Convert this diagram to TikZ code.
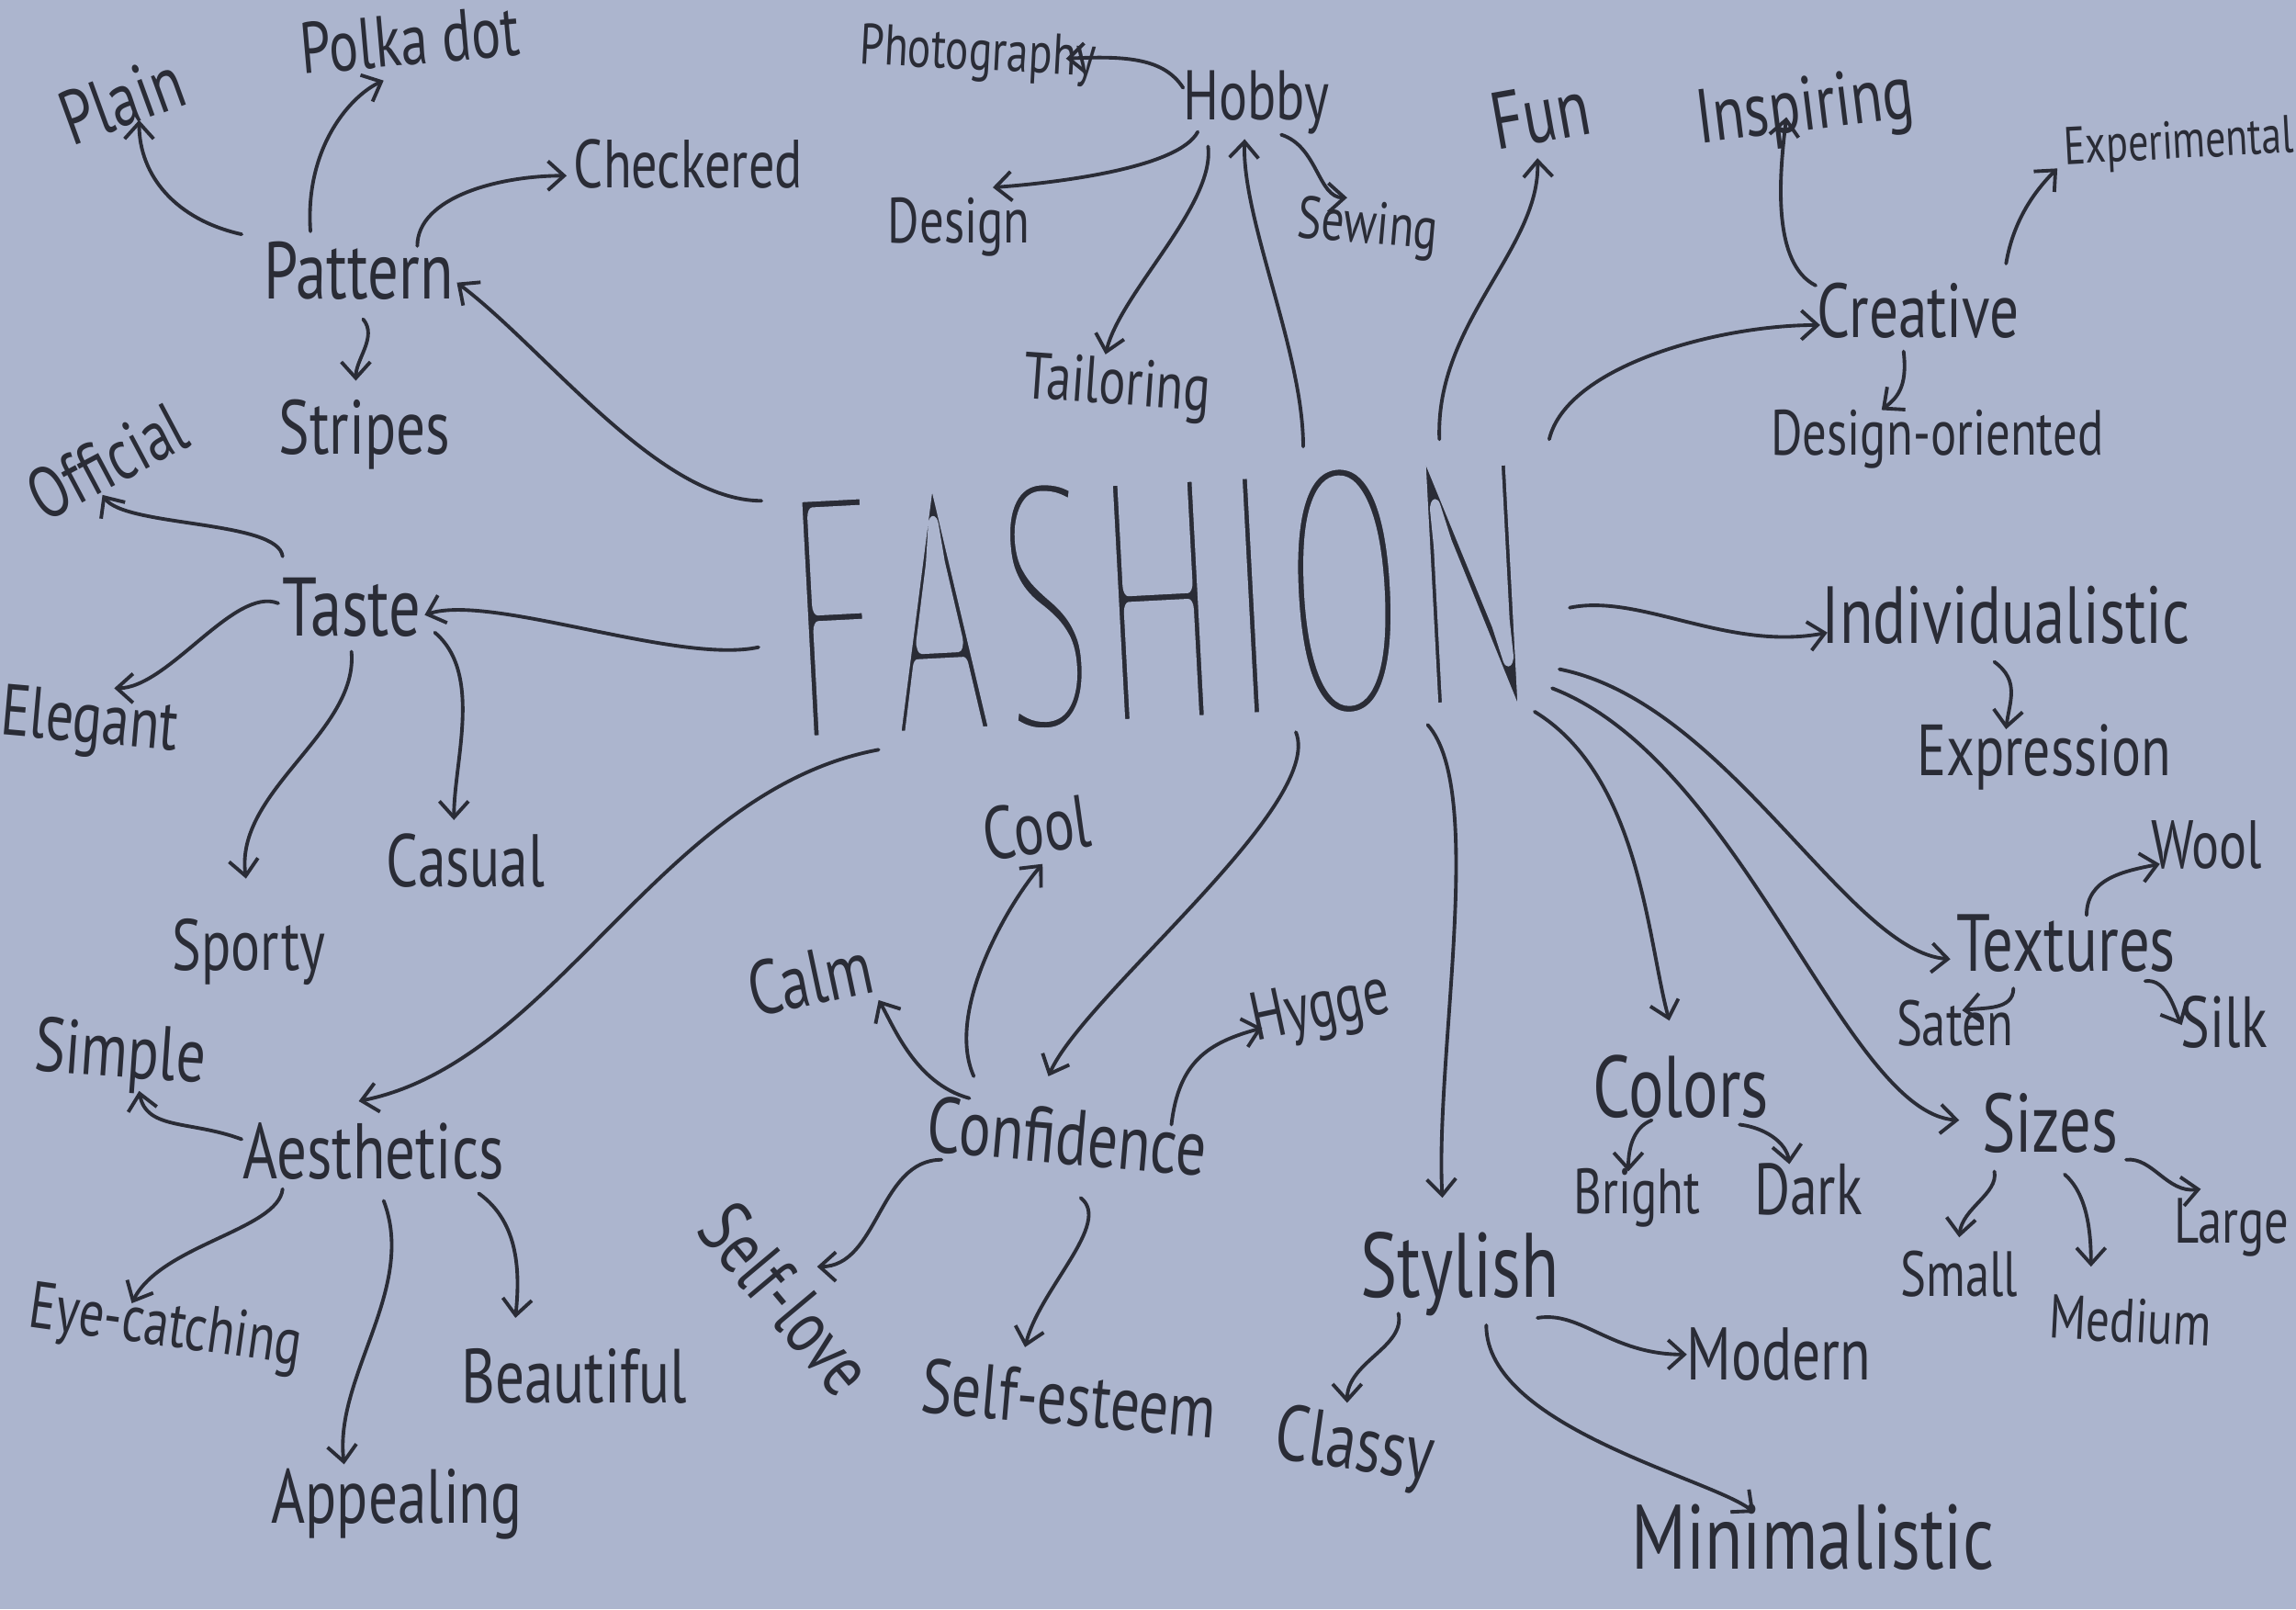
\documentclass[tikz,border=0pt]{standalone}
\usepackage{fontspec}
\setmainfont{PT Sans}
\newfontfamily\bigfont{PT Sans}[LetterSpace=4]
\usetikzlibrary{arrows.meta}
\definecolor{paper}{RGB}{172,181,206}
\definecolor{ink}{RGB}{42,44,54}
\newcommand{\hw}[1]{\scalebox{1}[1.32]{#1}}
\newcommand{\thinfashion}[1]{\special{pdf:literal direct 3.2 w 1 j 0.675 0.710 0.808 RG 2 Tr}#1\special{pdf:literal direct 0 Tr 0.165 0.173 0.212 RG}}
\tikzset{
  lbl/.style={font=\fontsize{#1}{#1}\selectfont, text=ink, inner sep=1pt},
  con/.style={draw=ink, line width=1.1pt, line cap=round, -{Straight Barb[length=5pt,width=9pt]}}
}
\begin{document}
\begin{tikzpicture}[x=0.01594cm,y=-0.01594cm]
\path[fill=paper] (0,0) rectangle (1568,1099);
\useasboundingbox (0,0) rectangle (1568,1099);

% centre
\node[lbl=55, rotate=3] (fa) at (792,410) {\bigfont\scalebox{1}[2.05]{\thinfashion{FASHION}}};

% pattern group
\node[lbl=19] (pat) at (245,185) {\hw{Pattern}};
\node[lbl=18, rotate=20] (plain) at (83,68) {\hw{Plain}};
\node[lbl=17, rotate=5] (polka) at (280,27) {\hw{Polka dot}};
\node[lbl=16] (chk) at (470,112) {\hw{Checkered}};
\node[lbl=18] (str) at (249,297) {\hw{Stripes}};
% taste group
\node[lbl=19.5] (taste) at (240,415) {\hw{Taste}};
\node[lbl=17, rotate=28] (off) at (73,315) {\hw{Official}};
\node[lbl=17, rotate=-5] (eleg) at (61,495) {\hw{Elegant}};
\node[lbl=17.5] (cas) at (318,588) {\hw{Casual}};
\node[lbl=17] (spo) at (170,650) {\hw{Sporty}};
% aesthetics group
\node[lbl=18.5] (aes) at (255,786) {\hw{Aesthetics}};
\node[lbl=18, rotate=-4] (simp) at (82,722) {\hw{Simple}};
\node[lbl=15.5, rotate=-8] (eye) at (113,908) {\hw{Eye-catching}};
\node[lbl=18] (beau) at (392,940) {\hw{Beautiful}};
\node[lbl=18] (app) at (271,1027) {\hw{Appealing}};
% hobby group
\node[lbl=16.5] (hob) at (858,70) {\hw{Hobby}};
\node[lbl=13.5, rotate=-3] (pho) at (668,38) {\hw{Photography}};
\node[lbl=15] (des) at (655,155) {\hw{Design}};
\node[lbl=14, rotate=-5] (sew) at (934,156) {\hw{Sewing}};
\node[lbl=15.5, rotate=-4] (tai) at (763,265) {\hw{Tailoring}};
\node[lbl=19, rotate=10] (fun) at (1052,78) {\hw{Fun}};
% creative group
\node[lbl=18] (cre) at (1310,212) {\hw{Creative}};
\node[lbl=18, rotate=7] (insp) at (1233,76) {\hw{Inspiring}};
\node[lbl=12.5, rotate=3] (expe) at (1488,99) {\hw{Experimental}};
\node[lbl=15] (dor) at (1323,300) {\hw{Design-oriented}};
\node[lbl=19] (ind) at (1370,420) {\hw{Individualistic}};
\node[lbl=17] (expr) at (1396,517) {\hw{Expression}};
% textures / sizes / colors
\node[lbl=19] (tex) at (1411,644) {\hw{Textures}};
\node[lbl=16] (wool) at (1507,577) {\hw{Wool}};
\node[lbl=15] (sat) at (1335,699) {\hw{Saten}};
\node[lbl=17] (silk) at (1519,698) {\hw{Silk}};
\node[lbl=19.5] (siz) at (1400,767) {\hw{Sizes}};
\node[lbl=15] (sma) at (1338,870) {\hw{Small}};
\node[lbl=14.5, rotate=-3] (med) at (1455,902) {\hw{Medium}};
\node[lbl=15] (lar) at (1524,838) {\hw{Large}};
\node[lbl=20.5] (col) at (1148,742) {\hw{Colors}};
\node[lbl=15] (bri) at (1118,818) {\hw{Bright}};
\node[lbl=17] (dar) at (1235,812) {\hw{Dark}};
% stylish group
\node[lbl=21.5] (sty) at (997,870) {\hw{Stylish}};
\node[lbl=18.5, rotate=-8] (cla) at (925,990) {\hw{Classy}};
\node[lbl=17.5] (mod) at (1215,925) {\hw{Modern}};
\node[lbl=21.5] (min) at (1238,1050) {\hw{Minimalistic}};
% confidence group
\node[lbl=18.5, rotate=-5] (conf) at (729,776) {\hw{Confidence}};
\node[lbl=17.5, rotate=8] (cool) at (708,565) {\hw{Cool}};
\node[lbl=18, rotate=12] (calm) at (553,668) {\hw{Calm}};
\node[lbl=16, rotate=12] (hyg) at (902,690) {\hw{Hygge}};
\node[lbl=18, rotate=-50] (slove) at (537,887) {\hw{Self-love}};
\node[lbl=18, rotate=-5] (sest) at (730,955) {\hw{Self-esteem}};

% connectors from FASHION
\draw[con] ([shift={(-272,-68)}]fa.center) .. controls +(-70,0) and +(60,45) .. ([shift={(67,8)}]pat.center);
\draw[con] ([shift={(-274,32)}]fa.center) .. controls +(-55,12) and +(45,-15) .. ([shift={(50,5)}]taste.center);
\draw[con] ([shift={(-192,102)}]fa.center) .. controls +(-150,28) and +(135,-27) .. ([shift={(-10,-34)}]aes.center);
\draw[con] ([shift={(98,-105)}]fa.center) .. controls +(0,-65) and +(-2,55) .. ([shift={(-8,25)}]hob.center);
\draw[con] ([shift={(191,-110)}]fa.center) .. controls +(-3,-80) and +(2,62) .. ([shift={(-2,30)}]fun.center);
\draw[con] ([shift={(266,-110)}]fa.center) .. controls +(12,-50) and +(-70,0) .. ([shift={(-67,10)}]cre.center);
\draw[con] ([shift={(280,5)}]fa.center) .. controls +(48,-10) and +(-68,13) .. ([shift={(-122,12)}]ind.center);
\draw[con] ([shift={(273,47)}]fa.center) .. controls +(115,23) and +(-70,-5) .. ([shift={(-79,11)}]tex.center);
\draw[con] ([shift={(268,60)}]fa.center) .. controls +(130,50) and +(-78,-5) .. ([shift={(-62,-2)}]siz.center);
\draw[con] ([shift={(256,76)}]fa.center) .. controls +(72,44) and +(-15,-55) .. ([shift={(-8,-45)}]col.center);
\draw[con] ([shift={(183,85)}]fa.center) .. controls +(40,45) and +(-5,-98) .. ([shift={(-12,-52)}]sty.center);
\draw[con] ([shift={(93,90)}]fa.center) .. controls +(20,50) and +(24,-55) .. ([shift={(-13,-41)}]conf.center);

% pattern
\draw[con] ([shift={(-80,-25)}]pat.center) .. controls +(-45,-10) and +(0,38) .. ([shift={(12,14)}]plain.center);
\draw[con] ([shift={(-33,-27)}]pat.center) .. controls +(-4,-58) and +(-22,10) .. ([shift={(-18,28)}]polka.center);
\draw[con] ([shift={(40,-17)}]pat.center) .. controls +(0,-33) and +(-47,0) .. ([shift={(-83,8)}]chk.center);
\draw[con] ([shift={(3,33)}]pat.center) .. controls +(10,12) and +(0,-15) .. ([shift={(-6,-37)}]str.center);
% taste
\draw[con] ([shift={(-47,-35)}]taste.center) .. controls +(-3,-25) and +(15,22) .. ([shift={(-3,23)}]off.center);
\draw[con] ([shift={(-50,-3)}]taste.center) .. controls +(-30,-12) and +(37,0) .. ([shift={(17,-25)}]eleg.center);
\draw[con] ([shift={(0,30)}]taste.center) .. controls +(5,55) and +(-8,-60) .. ([shift={(-2,-50)}]spo.center);
\draw[con] ([shift={(57,17)}]taste.center) .. controls +(33,28) and +(0,-40) .. ([shift={(-8,-28)}]cas.center);
% aesthetics
\draw[con] ([shift={(-90,-8)}]aes.center) .. controls +(-35,-13) and +(5,27) .. ([shift={(13,23)}]simp.center);
\draw[con] ([shift={(-62,26)}]aes.center) .. controls +(-3,28) and +(20,-40) .. ([shift={(-23,-18)}]eye.center);
\draw[con] ([shift={(7,34)}]aes.center) .. controls +(23,60) and +(-7,-60) .. ([shift={(-36,-27)}]app.center);
\draw[con] ([shift={(72,29)}]aes.center) .. controls +(28,20) and +(3,-30) .. ([shift={(-40,-40)}]beau.center);
% hobby
\draw[con] ([shift={(-50,-10)}]hob.center) .. controls +(-13,-20) and +(42,-2) .. ([shift={(60,2)}]pho.center);
\draw[con] ([shift={(-40,20)}]hob.center) .. controls +(-13,25) and +(42,-3) .. ([shift={(23,-27)}]des.center);
\draw[con] ([shift={(17,22)}]hob.center) .. controls +(25,8) and +(-20,0) .. ([shift={(-14,-21)}]sew.center);
\draw[con] ([shift={(-33,30)}]hob.center) .. controls +(5,40) and +(10,-42) .. ([shift={(-8,-23)}]tai.center);
% creative
\draw[con] ([shift={(-70,-17)}]cre.center) .. controls +(-30,-15) and +(-5,40) .. ([shift={(-13,4)}]insp.center);
\draw[con] ([shift={(60,-32)}]cre.center) .. controls +(5,-30) and +(-15,15) .. ([shift={(-83,16)}]expe.center);
\draw[con] ([shift={(-10,28)}]cre.center) .. controls +(3,25) and +(10,-8) .. ([shift={(-38,-20)}]dor.center);
\draw[con] ([shift={(-8,32)}]ind.center) .. controls +(18,13) and +(2,-18) .. ([shift={(-26,-19)}]expr.center);
% textures
\draw[con] ([shift={(14,-19)}]tex.center) .. controls +(0,-25) and +(-25,5) .. ([shift={(-32,13)}]wool.center);
\draw[con] ([shift={(-36,31)}]tex.center) .. controls +(0,15) and +(15,-2) .. ([shift={(5,-9)}]sat.center);
\draw[con] ([shift={(54,26)}]tex.center) .. controls +(15,-2) and +(-5,-10) .. ([shift={(-29,2)}]silk.center);
% sizes
\draw[con] ([shift={(-38,33)}]siz.center) .. controls +(3,15) and +(2,-20) .. ([shift={(0,-25)}]sma.center);
\draw[con] ([shift={(10,35)}]siz.center) .. controls +(15,13) and +(0,-25) .. ([shift={(-27,-37)}]med.center);
\draw[con] ([shift={(52,25)}]siz.center) .. controls +(18,-2) and +(-23,3) .. ([shift={(-21,-26)}]lar.center);
% colors
\draw[con] ([shift={(-20,23)}]col.center) .. controls +(-13,5) and +(0,-15) .. ([shift={(-6,-18)}]bri.center);
\draw[con] ([shift={(40,26)}]col.center) .. controls +(17,2) and +(-2,-15) .. ([shift={(-13,-17)}]dar.center);
% stylish
\draw[con] ([shift={(-42,27)}]sty.center) .. controls +(5,23) and +(0,-28) .. ([shift={(-5,-32)}]cla.center);
\draw[con] ([shift={(53,30)}]sty.center) .. controls +(30,-5) and +(-52,0) .. ([shift={(-63,0)}]mod.center);
\draw[con] ([shift={(18,35)}]sty.center) .. controls +(0,70) and +(-28,-23) .. ([shift={(-40,-17)}]min.center);
% confidence
\draw[con] ([shift={(-67,-26)}]conf.center) .. controls +(-37,-10) and +(10,17) .. ([shift={(47,15)}]calm.center);
\draw[con] ([shift={(-64,-41)}]conf.center) .. controls +(-20,-45) and +(-22,25) .. ([shift={(4,25)}]cool.center);
\draw[con] ([shift={(71,-8)}]conf.center) .. controls +(5,-43) and +(-37,10) .. ([shift={(-40,12)}]hyg.center);
\draw[con] ([shift={(-86,16)}]conf.center) .. controls +(-43,0) and +(42,0) .. ([shift={(21,-22)}]slove.center);
\draw[con] ([shift={(9,42)}]conf.center) .. controls +(22,17) and +(10,-40) .. ([shift={(-30,-35)}]sest.center);
\end{tikzpicture}
\end{document}
